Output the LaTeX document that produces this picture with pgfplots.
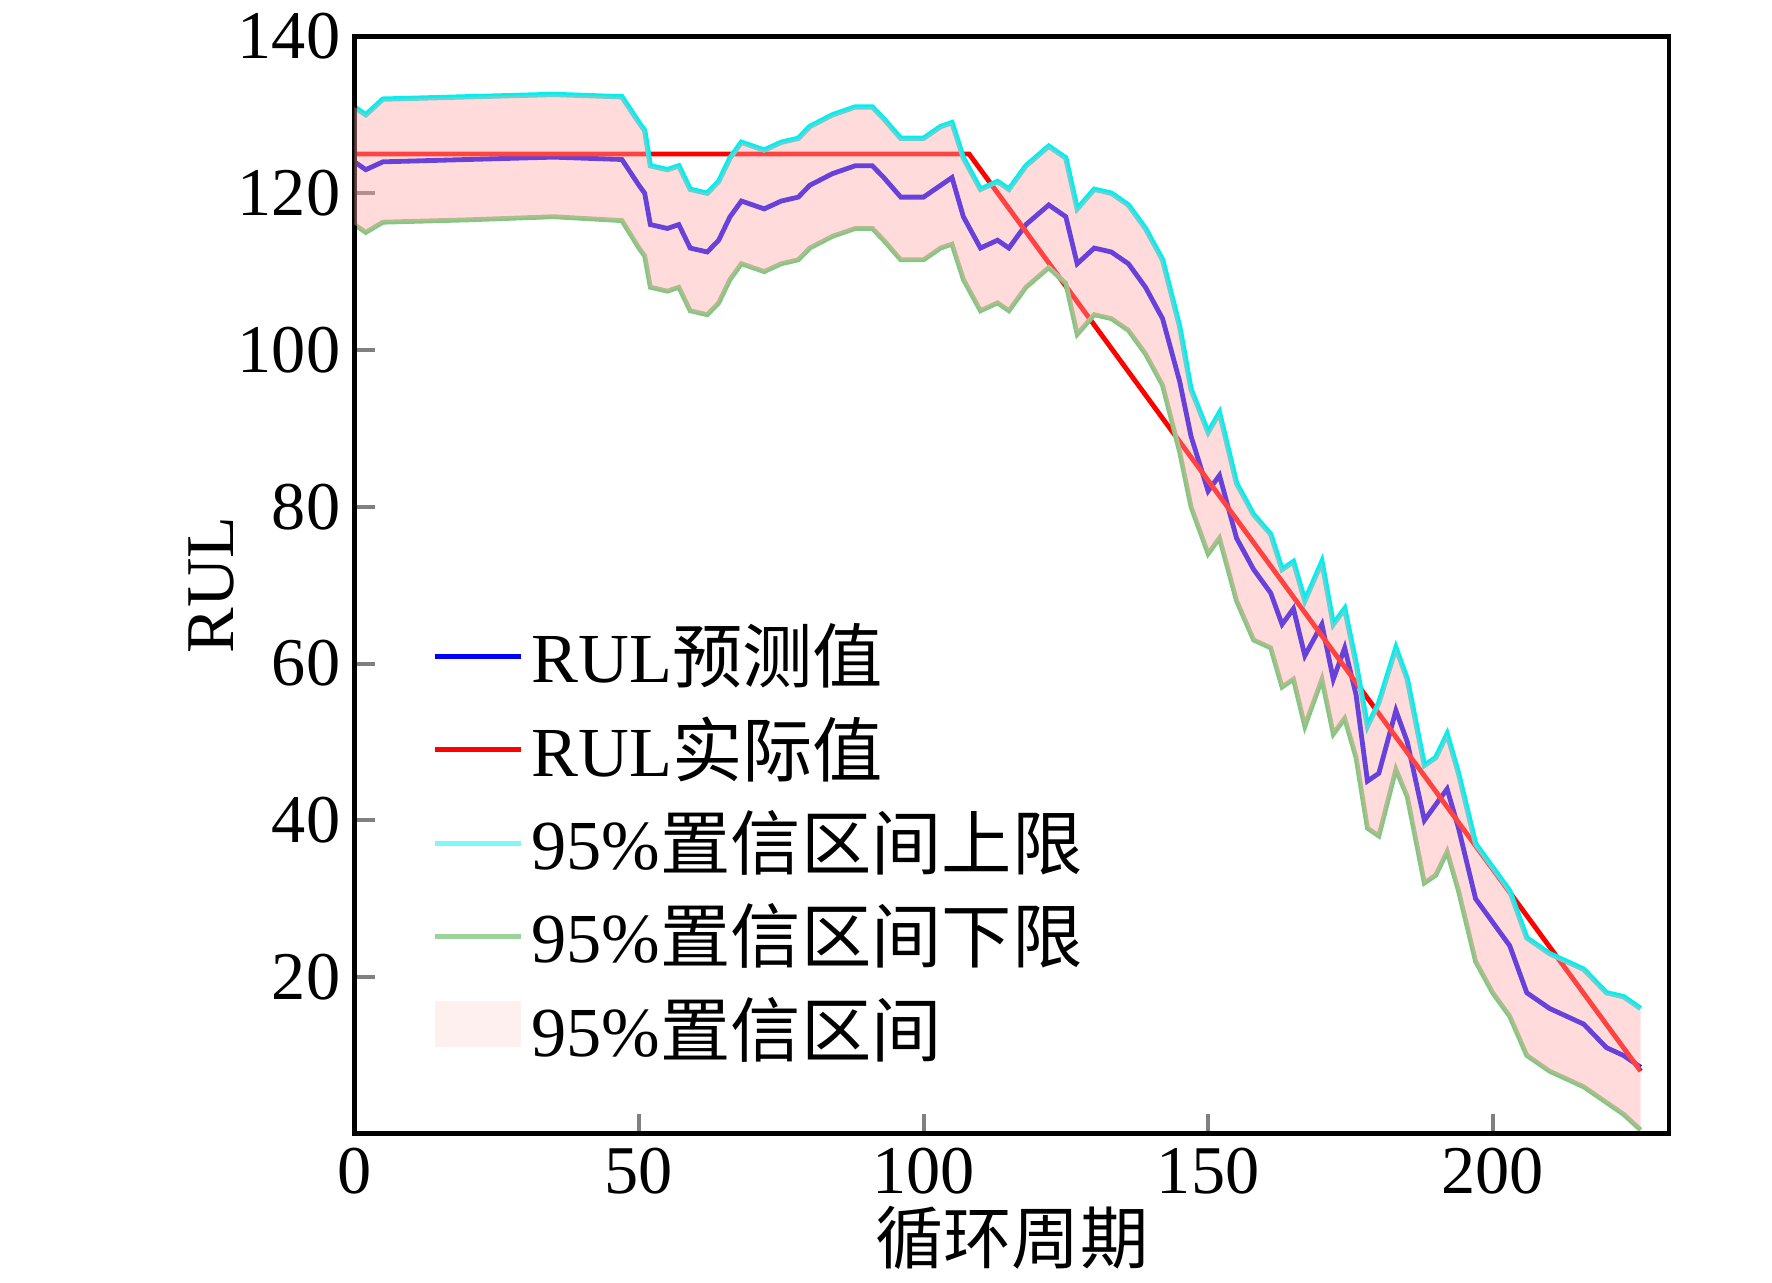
\documentclass[border=0pt]{standalone}
\usepackage{pgfplots}
\pgfplotsset{compat=1.18}
\usepgfplotslibrary{fillbetween}
\usepackage{fontspec}
\setmainfont{Liberation Serif}
\newfontfamily\cjk{Noto Sans CJK SC}
\definecolor{upc}{RGB}{0,240,240}
\definecolor{loc}{RGB}{130,200,130}
\begin{document}
\begin{tikzpicture}
\begin{axis}[
 set layers,
 scale only axis, width=11.5cm, height=9.6cm,
 xmin=0, xmax=231, ymin=0, ymax=140,
 xtick={0,50,100,150,200}, ytick={20,40,60,80,100,120,140},
 axis line style={line width=1.2pt},
 major tick length=5pt,
 tick style={line width=1pt},
 xtick pos=bottom, ytick pos=left, tick align=inside,
 /pgf/number format/assume math mode=true,
 ticklabel style={font=\fontsize{17}{20}\selectfont},
 label style={font=\fontsize{17}{20}\selectfont},
 xlabel={\cjk 循环周期}, ylabel={RUL},
 xlabel style={yshift=4pt}, ylabel style={yshift=-6pt},
 legend style={draw=none, fill=none, at={(0.05,0.05)}, anchor=south west, font=\fontsize{17.5}{21}\selectfont, row sep=3pt},
 legend cell align=left,
]
\addplot[on layer=axis background, blue, line width=1.2pt, legend image code/.code={\draw[blue,line width=1.2pt] (0cm,0cm)--(0.75cm,0cm);}] coordinates {(0,124)(2,123)(5,124)(20,124.3)(35,124.6)(47,124.3)(50,121)(51,120)(52,116)(55,115.5)(57,116)(59,113)(62,112.5)(64,114)(66,117)(68,119)(72,118)(75,119)(78,119.5)(80,121)(84,122.5)(88,123.5)(91,123.5)(93,122)(96,119.5)(100,119.5)(103,121)(105,122)(107,117)(110,113)(113,114)(115,113)(118,116)(122,118.5)(125,117)(127,111)(130,113)(133,112.5)(136,111)(139,108)(142,104)(145,96)(147,89)(150,82)(152,84)(155,76)(158,72)(161,69)(163,65)(165,67)(167,61)(170,65)(172,58)(174,62)(176,56)(178,45)(180,46)(183,54)(185,50)(188,40)(190,42)(192,44)(194,39)(197,30)(200,27)(203,24)(206,18)(210,16)(213,15)(216,14)(220,11)(223,10)(226,8.5)};
\addlegendentry{RUL{\cjk 预测值}}
\addplot[on layer=axis background, red, line width=1.2pt, legend image code/.code={\draw[red,line width=1.2pt] (0cm,0cm)--(0.75cm,0cm);}] coordinates {(0,125)(108,125)(226,8)};
\addlegendentry{RUL{\cjk 实际值}}
\addplot[on layer=axis background, upc, line width=1.3pt, name path=up, legend image code/.code={\draw[upc!50!white,line width=1.2pt] (0cm,0cm)--(0.75cm,0cm);}] coordinates {(0,131)(2,130)(5,132)(20,132.3)(35,132.6)(47,132.3)(50,129)(51,128)(52,123.5)(55,123)(57,123.5)(59,120.5)(62,120)(64,121.5)(66,124.5)(68,126.5)(72,125.5)(75,126.5)(78,127)(80,128.5)(84,130)(88,131)(91,131)(93,129.5)(96,127)(100,127)(103,128.5)(105,129)(107,124.5)(110,120.5)(113,121.5)(115,120.5)(118,123.5)(122,126)(125,124.5)(127,118)(130,120.5)(133,120)(136,118.5)(139,115.5)(142,111.5)(145,103)(147,95)(150,89.5)(152,92)(155,83)(158,79)(161,76.5)(163,72)(165,73)(167,68)(170,73)(172,65)(174,67)(176,60)(178,52)(180,55)(183,62)(185,58)(188,47)(190,48)(192,51)(194,46)(197,37)(200,34)(203,31)(206,25)(210,23)(213,22)(216,21)(220,18)(223,17.5)(226,16)};
\addlegendentry{95\%{\cjk 置信区间上限}}
\addplot[on layer=axis background, loc, line width=1.2pt, name path=lo, legend image code/.code={\draw[loc!80!white,line width=1.2pt] (0cm,0cm)--(0.75cm,0cm);}] coordinates {(0,116)(2,115)(5,116.3)(20,116.6)(35,117)(47,116.5)(50,113)(51,112)(52,108)(55,107.5)(57,108)(59,105)(62,104.5)(64,106)(66,109)(68,111)(72,110)(75,111)(78,111.5)(80,113)(84,114.5)(88,115.5)(91,115.5)(93,114)(96,111.5)(100,111.5)(103,113)(105,113.5)(107,109)(110,105)(113,106)(115,105)(118,108)(122,110.5)(125,108.5)(127,102)(130,104.5)(133,104)(136,102.5)(139,99.5)(142,95.5)(145,87)(147,80)(150,74)(152,76)(155,68)(158,63)(161,62)(163,57)(165,58)(167,52)(170,58)(172,51)(174,53)(176,48)(178,39)(180,38)(183,46.5)(185,43)(188,32)(190,33)(192,36)(194,31)(197,22)(200,18)(203,15)(206,10)(210,8)(213,7)(216,6)(220,4)(223,2.5)(226,0.5)};
\addlegendentry{95\%{\cjk 置信区间下限}}
\addplot[fill=red!35, fill opacity=0.4, draw=none, legend image code/.code={\fill[red!15] (0cm,-0.15cm) rectangle (0.75cm,0.25cm);}] fill between[of=up and lo];
\addlegendentry{95\%{\cjk 置信区间}}
\end{axis}
\path (current axis.east) ++(0.9cm,0) circle (0.01pt);
\path (current axis.west) ++(-3.1cm,0) circle (0.01pt);
\end{tikzpicture}
\end{document}
